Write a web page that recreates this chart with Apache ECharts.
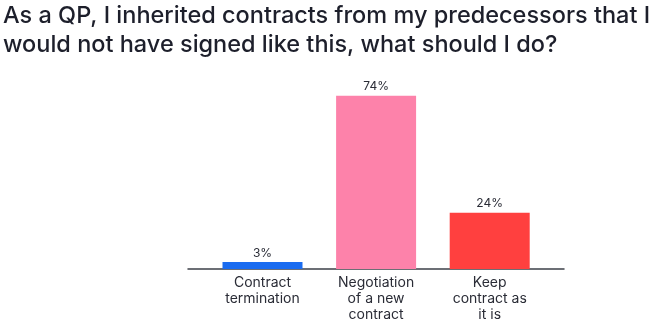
<!DOCTYPE html>
<html><head><meta charset="utf-8">
<script src="https://cdn.jsdelivr.net/npm/echarts@6/dist/echarts.min.js"></script>
<style>html,body{margin:0;padding:0;background:#fff}#c{width:650px;height:324px}</style>
</head><body><div id="c"></div>
<script>
const titleText = "As a QP, I inherited contracts from my predecessors that I\nwould not have signed like this, what should I do?";
const categories = ["Contract\ntermination", "Negotiation\nof a new\ncontract", "Keep\ncontract as\nit is"];
const values = [3, 74, 24];
const colors = ["#1a6cf0", "#fd82aa", "#ff403f"];

const chart = echarts.init(document.getElementById('c'), null, {renderer: 'canvas'});
chart.setOption({
  animation: false,
  backgroundColor: '#fff',
  title: {
    text: titleText, left: 3, top: 1, padding: 0,
    textStyle: {fontFamily: 'Inter', fontSize: 23.5, fontWeight: 500, color: '#1d1f2b', lineHeight: 29}
  },
  grid: [
    {left: 205.7, width: 340.8, top: 81.6, height: 187.4},
    {left: 188, width: 376, top: 81.6, height: 187.4}
  ],
  xAxis: [
    {type: 'category', gridIndex: 0, data: categories,
     axisLine: {show: false}, axisTick: {show: false},
     axisLabel: {margin: 6, color: '#2a2c36', fontFamily: 'Inter', fontSize: 14, lineHeight: 16, interval: 0}},
    {type: 'value', gridIndex: 1, min: 0, max: 1,
     axisLine: {show: true, lineStyle: {color: '#3d4048', width: 1.5}},
     axisTick: {show: false}, axisLabel: {show: false}, splitLine: {show: false}}
  ],
  yAxis: [
    {type: 'value', gridIndex: 0, min: 0, max: 80, show: false},
    {type: 'value', gridIndex: 1, min: 0, max: 80, show: false}
  ],
  series: [{
    type: 'bar', xAxisIndex: 0, yAxisIndex: 0, barWidth: 80, z: 1,
    data: values.map((v, i) => ({value: v, itemStyle: {color: colors[i]}})),
    label: {show: true, position: 'top', distance: 3, formatter: '{c}%', color: '#2a2c36', fontFamily: 'Inter', fontSize: 12}
  }]
});
</script></body></html>
